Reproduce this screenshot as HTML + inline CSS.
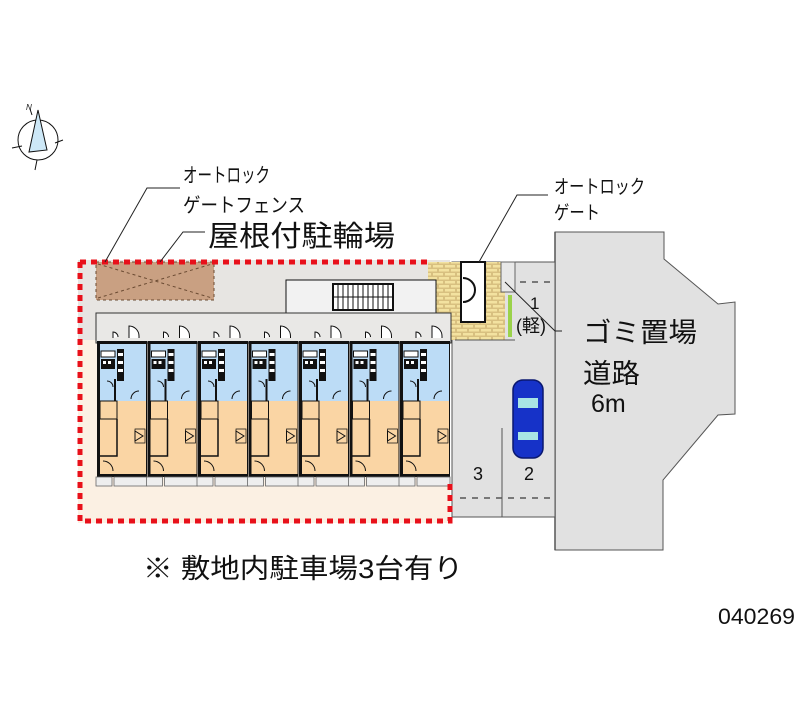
<!DOCTYPE html>
<html><head><meta charset="utf-8"><style>
html,body{margin:0;padding:0;background:#fff;}
svg{display:block;}
text{font-family:"Liberation Sans","Noto Sans CJK JP",sans-serif;fill:#111;}
</style></head><body>
<svg width="800" height="727" viewBox="0 0 800 727" xmlns="http://www.w3.org/2000/svg">
<defs>
<pattern id="brick" width="12" height="8" patternUnits="userSpaceOnUse">
<rect width="12" height="8" fill="#d8c080"/>
<rect x="1" y="1" width="10" height="2.5" fill="#f3e2a0"/>
<rect x="-5" y="5" width="10" height="2.5" fill="#f3e2a0"/>
<rect x="7" y="5" width="10" height="2.5" fill="#f3e2a0"/>
</pattern>
<g id="unit">
<rect x="0" y="0" width="50" height="136" fill="#111"/>
<rect x="3" y="3" width="46" height="57" fill="#bcdcf6"/>
<rect x="3" y="60" width="46" height="73" fill="#fad5a4"/>
<rect x="4" y="10" width="14" height="6" fill="#fff" stroke="#111"/>
<rect x="4" y="18" width="14" height="10" fill="#111"/>
<rect x="6" y="20" width="3" height="3" fill="#fff"/><rect x="11" y="20" width="3" height="3" fill="#fff"/>
<rect x="20" y="8" width="7" height="32" fill="#111"/>
<rect x="21" y="12" width="5" height="3" fill="#fff"/><rect x="21" y="20" width="5" height="3" fill="#fff"/><rect x="21" y="28" width="5" height="3" fill="#fff"/>
<path d="M18 38 L18 60" stroke="#111" stroke-width="2"/>
<rect x="3" y="60" width="17" height="18" fill="#fad5a4" stroke="#111"/>
<path d="M20 78 L20 115 L3 115" stroke="#111" fill="none" stroke-width="1.5"/>
<path d="M38 90 l8 5 -8 5z" fill="none" stroke="#111"/>
<path d="M38 88 h10 v14 h-10z" fill="none" stroke="#111" stroke-width="0.7"/>
<path d="M6 120 a10 10 0 0 1 10 10" fill="none" stroke="#111"/>
<path d="M34 58 a8 8 0 0 1 8 -8" fill="none" stroke="#111"/>
<path d="M10 40 a6 6 0 0 1 6 6" fill="none" stroke="#111"/>
<path d="M32 -3 v-12 a10 10 0 0 1 10 10 v2" fill="#fff" stroke="#111"/>
<path d="M16 -3 v-6 a5 5 0 0 1 5 5" fill="#fff" stroke="#111"/>
<rect x="-1" y="136" width="16" height="9" fill="#eee" stroke="#666" stroke-width="0.8"/>
<rect x="17" y="136" width="33" height="9" fill="#eee" stroke="#666" stroke-width="0.8"/>
</g>
</defs>

<!-- compass -->
<g stroke="#111" stroke-width="1" fill="none">
<circle cx="38" cy="140" r="20"/>
<path d="M30 109 l2 6 M29 152 l9 -42 l9 40 z" fill="#cde8f7"/>
<path d="M12 148 l10 -2 M55 143 l8 -3 M35 170 l2 -10"/>
</g>
<text x="26" y="110" font-size="8" font-style="italic">N</text>

<!-- road -->
<polygon points="555,232 664,232 664,259 718,304 735,302 735,414 718,415 663,480 663,550 555,550" fill="#e1e1e1" stroke="#555" stroke-width="1"/>
<line x1="555" y1="232" x2="555" y2="550" stroke="#555" stroke-width="1.5"/>

<!-- lot background -->
<rect x="78" y="260" width="372" height="263" fill="#fbf0e3"/>
<rect x="78" y="260" width="372" height="80" fill="#e7e5e2"/>
<!-- parking -->
<rect x="452" y="262" width="103" height="255" fill="#e1e1e1" stroke="#555" stroke-width="1"/>
<line x1="502" y1="428" x2="502" y2="517" stroke="#555"/>
<path d="M460 498 h90 M520 282 h35" stroke="#555" stroke-width="1.5" stroke-dasharray="6,6"/>
<!-- brick area -->
<rect x="428" y="262" width="77" height="78" fill="url(#brick)"/>
<rect x="461" y="262" width="24" height="60" fill="#fff" stroke="#111" stroke-width="2"/>
<path d="M463 278 a12 12 0 0 1 0 24" fill="none" stroke="#111" stroke-width="2"/>
<rect x="501" y="262" width="14" height="30" fill="#e8e8e8" stroke="#666"/>
<rect x="508" y="295" width="4" height="42" fill="#9ad24a"/>
<line x1="455" y1="340" x2="515" y2="340" stroke="#555"/>
<!-- bike shed -->
<rect x="96" y="262" width="118" height="38" fill="#c9a082"/>
<path d="M98 264 L212 298 M98 298 L212 264" stroke="#6a4a32" stroke-dasharray="3,3"/>
<rect x="96" y="262" width="118" height="38" fill="none" stroke="#6a4a32" stroke-dasharray="3,3"/>
<!-- stairs -->
<rect x="286" y="280" width="150" height="33" fill="#f2f2f2" stroke="#111"/>
<rect x="333" y="284" width="60" height="26" fill="#fff" stroke="#111" stroke-width="2"/>
<path d="M338 285 v24 M343 285 v24 M348 285 v24 M353 285 v24 M358 285 v24 M363 285 v24 M368 285 v24 M373 285 v24 M378 285 v24 M383 285 v24 M388 285 v24" stroke="#111"/>
<line x1="333" y1="297" x2="393" y2="297" stroke="#111"/>
<!-- corridor -->
<rect x="96" y="313" width="355" height="30" fill="#e9e8e6" stroke="#333"/>
<!-- units -->
<use href="#unit" x="97" y="341"/>
<use href="#unit" x="147.5" y="341"/>
<use href="#unit" x="198" y="341"/>
<use href="#unit" x="248.5" y="341"/>
<use href="#unit" x="299" y="341"/>
<use href="#unit" x="349.5" y="341"/>
<use href="#unit" x="400" y="341"/>

<!-- red dotted boundary -->
<path d="M80 262 H428 M80 262 V521 H450 V480" fill="none" stroke="#e8101a" stroke-width="5" stroke-dasharray="6,5"/>

<!-- car -->
<rect x="513" y="380" width="30" height="78" rx="10" fill="#1632c8" stroke="#0a1870" stroke-width="1.5"/>
<rect x="518" y="398" width="20" height="10" fill="#a8e4e4"/>
<rect x="518" y="432" width="20" height="8" fill="#a8e4e4"/>

<!-- leader lines -->
<g stroke="#222" fill="none" stroke-width="1">
<path d="M105 262 L147 188 H180"/>
<path d="M160 262 L183 232 H205"/>
<path d="M479 262 L517 195 H548"/>
<path d="M505 282 L555 331 H562"/>
</g>

<!-- labels -->
<text x="183" y="182" font-size="20" textLength="87" lengthAdjust="spacingAndGlyphs">オートロック</text>
<text x="183" y="212" font-size="20" textLength="122" lengthAdjust="spacingAndGlyphs">ゲートフェンス</text>
<text x="208" y="246" font-size="29" textLength="187" lengthAdjust="spacingAndGlyphs">屋根付駐輪場</text>
<text x="554" y="193" font-size="19" textLength="91" lengthAdjust="spacingAndGlyphs">オートロック</text>
<text x="554" y="219" font-size="19" textLength="46" lengthAdjust="spacingAndGlyphs">ゲート</text>
<text x="530" y="309" font-size="17">1</text>
<text x="516" y="332" font-size="18">(軽)</text>
<text x="583" y="342" font-size="27" textLength="114" lengthAdjust="spacingAndGlyphs">ゴミ置場</text>
<text x="583" y="383" font-size="27" textLength="57" lengthAdjust="spacingAndGlyphs">道路</text>
<text x="591" y="412" font-size="25">6m</text>
<text x="473" y="480" font-size="18">3</text>
<text x="524" y="480" font-size="18">2</text>
<text x="143" y="578" font-size="27" textLength="320" lengthAdjust="spacingAndGlyphs">※ 敷地内駐車場3台有り</text>
<text x="718" y="624" font-size="22" textLength="77" lengthAdjust="spacingAndGlyphs">040269</text>
</svg>
</body></html>
